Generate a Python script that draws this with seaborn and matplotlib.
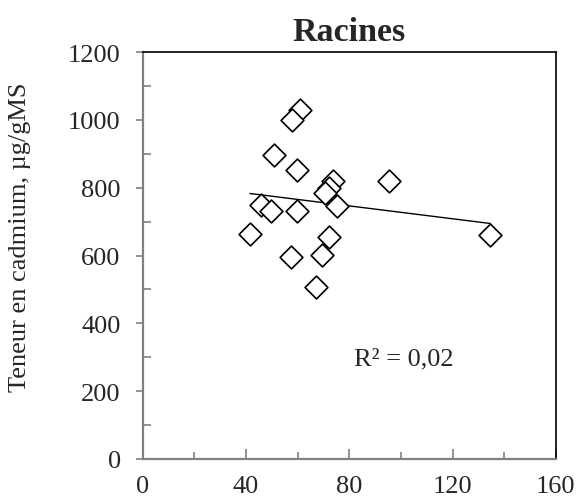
import numpy as np
import pandas as pd
import matplotlib.pyplot as plt
import seaborn as sns
from matplotlib.ticker import MultipleLocator
plt.switch_backend('Agg')

# values
x_vals = [61.0, 57.6, 50.8, 59.8, 73.8, 72.0, 70.7, 75.3, 45.9, 49.6,
          59.8, 41.5, 72.2, 57.5, 69.5, 67.2, 95.5, 134.6]
cd_vals = [1030, 1000, 897, 851, 819, 800, 785, 747, 749, 732,
           732, 664, 656, 597, 602, 508, 821, 661]
title = "Racines"
ylabel = "Teneur en cadmium, µg/gMS"
r2_label = "R² = 0,02"

df = pd.DataFrame({'x': x_vals, 'cd': cd_vals})

sns.set_style('white')
plt.rcParams['font.family'] = ['Liberation Serif', 'DejaVu Serif']

fig = plt.figure(figsize=(5.76, 5.02), dpi=100)
ax = fig.add_axes([0.248, 0.084, 0.717, 0.81])

sns.scatterplot(data=df, x='x', y='cd', marker='D', s=135, facecolor='white',
                edgecolor='black', linewidth=1.2, ax=ax, zorder=3)

# linear trend line over the data range
slope, intercept = np.polyfit(df['x'], df['cd'], 1)
xs = np.array([df['x'].min(), df['x'].max()])
ax.plot(xs, slope * xs + intercept, color='black', lw=1, zorder=2)

ax.set_xlim(0, 160)
ax.set_ylim(0, 1200)
ax.xaxis.set_major_locator(MultipleLocator(40))
ax.xaxis.set_minor_locator(MultipleLocator(20))
ax.yaxis.set_major_locator(MultipleLocator(200))
ax.yaxis.set_minor_locator(MultipleLocator(100))

ax.tick_params(axis='x', which='major', direction='in', length=7, width=1.2,
               color='#808080', labelsize=19, pad=12)
ax.tick_params(axis='x', which='minor', direction='in', length=5, width=1.2,
               color='#808080')
ax.tick_params(axis='y', which='major', direction='out', length=5, width=1.2,
               color='#808080', labelsize=19, pad=11)
ax.tick_params(axis='y', which='minor', direction='in', length=6, width=1.2,
               color='#808080')
ax.tick_params(left=True, bottom=True, which='both')

for side in ['left', 'bottom']:
    ax.spines[side].set_color('#808080')
    ax.spines[side].set_linewidth(1.6)
for side in ['top', 'right']:
    ax.spines[side].set_color('black')
    ax.spines[side].set_linewidth(1.2)

ax.set_xlabel('')
ax.set_ylabel(ylabel, fontsize=19)
ax.yaxis.set_label_coords(-0.272, 0.548)
ax.set_title(title, fontsize=24.5, fontweight='bold', pad=9)
ax.text(101, 295, r2_label, fontsize=19, ha='center', va='center')

fig.savefig('out.png', dpi=100)
